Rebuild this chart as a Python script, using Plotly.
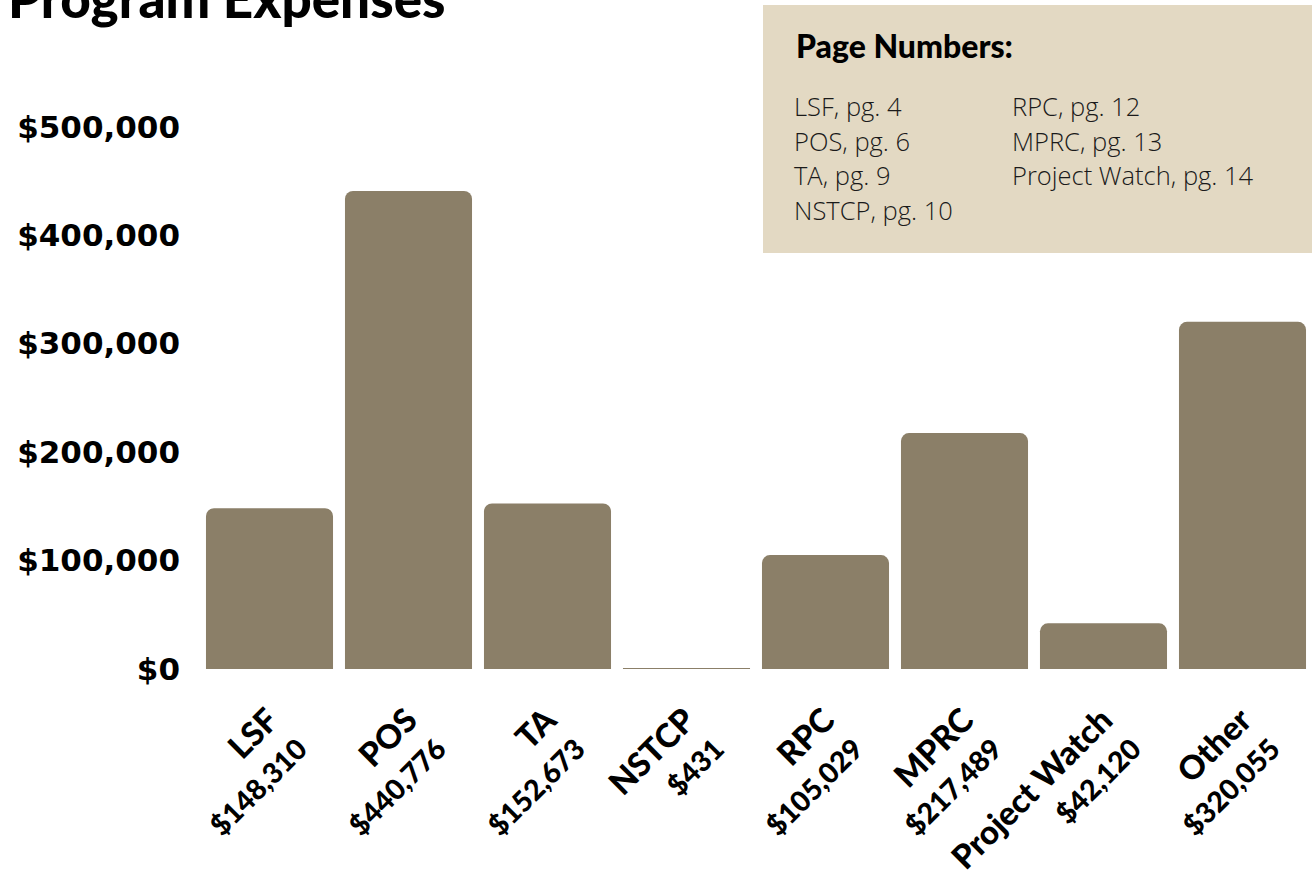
import plotly.graph_objects as go

categories = ["LSF", "POS", "TA", "NSTCP", "RPC", "MPRC", "Project Watch", "Other"]
expenses = [148310, 440776, 152673, 431, 105029, 217489, 42120, 320055]
y_ticks = [0, 100000, 200000, 300000, 400000, 500000]
page_col1 = ["LSF, pg. 4", "POS, pg. 6", "TA, pg. 9", "NSTCP, pg. 10"]
page_col2 = ["RPC, pg. 12", "MPRC, pg. 13", "Project Watch, pg. 14"]

tick_text = [
    f"<span style='font-size:33px'>{c}</span><br>"
    f"<span style='font-size:28.5px'>${v:,}</span>"
    for c, v in zip(categories, expenses)
]

BAR = "#8B7F68"
BOX = "#E3D9C3"

# layout geometry (pixels)
W, H = 1312, 879
ML, MR, MT, MB = 200, 0, 105, 210
PH = H - MT - MB


def py(p):
    """pixel y -> paper y"""
    return (H - MB - p) / PH


def px(p):
    return (p - ML) / (W - ML - MR)


fig = go.Figure(
    go.Bar(
        x=categories,
        y=expenses,
        marker=dict(color=BAR, line=dict(width=0)),
        hoverinfo="skip",
    )
)

fig.update_layout(
    width=W,
    height=H,
    margin=dict(l=ML, r=MR, t=MT, b=MB, pad=0, autoexpand=False),
    paper_bgcolor="white",
    plot_bgcolor="white",
    bargap=0.086,
    barcornerradius=8,
    showlegend=False,
    font=dict(family="Lato", color="black"),
)

fig.update_xaxes(
    tickmode="array",
    tickvals=categories,
    ticktext=tick_text,
    tickangle=-45,
    tickfont=dict(family="Lato", size=31, weight=900, color="black"),
    showgrid=False,
    showline=False,
    zeroline=False,
    ticks="",
    ticklabelstandoff=26,
    ticklabelshift=0,
    automargin=False,
)

fig.update_yaxes(
    range=[0, 520000],
    tickmode="array",
    tickvals=y_ticks,
    tickformat="$,",
    tickfont=dict(family="DejaVu Sans", size=31, weight=700, color="black"),
    showgrid=False,
    showline=False,
    zeroline=False,
    ticks="",
    ticklabelstandoff=19,
    automargin=False,
)

# title, partially cut off at the top
fig.add_annotation(
    text="Program Expenses",
    xref="paper", yref="paper",
    x=px(6), y=py(-3),
    xanchor="left", yanchor="middle",
    showarrow=False,
    font=dict(family="Lato", size=53, weight=900, color="black"),
)

# page-number box
fig.add_shape(
    type="rect", xref="paper", yref="paper",
    x0=px(763), x1=px(1312), y0=py(253), y1=py(5),
    fillcolor=BOX, line=dict(width=0), layer="below",
)
fig.add_annotation(
    text="Page Numbers:",
    xref="paper", yref="paper",
    x=px(794), y=py(46),
    xanchor="left", yanchor="middle",
    showarrow=False,
    font=dict(family="Lato", size=32, weight=900, color="black"),
)
for i, t in enumerate(page_col1):
    fig.add_annotation(
        text=t, xref="paper", yref="paper",
        x=px(792), y=py(106 + 34.7 * i),
        xanchor="left", yanchor="middle", showarrow=False,
        font=dict(family="Open Sans", size=25.5, weight=300, color="#1a1a1a"),
    )
for i, t in enumerate(page_col2):
    fig.add_annotation(
        text=t, xref="paper", yref="paper",
        x=px(1010), y=py(106 + 34.7 * i),
        xanchor="left", yanchor="middle", showarrow=False,
        font=dict(family="Open Sans", size=25.5, weight=300, color="#1a1a1a"),
    )

fig.write_html("out.html")
